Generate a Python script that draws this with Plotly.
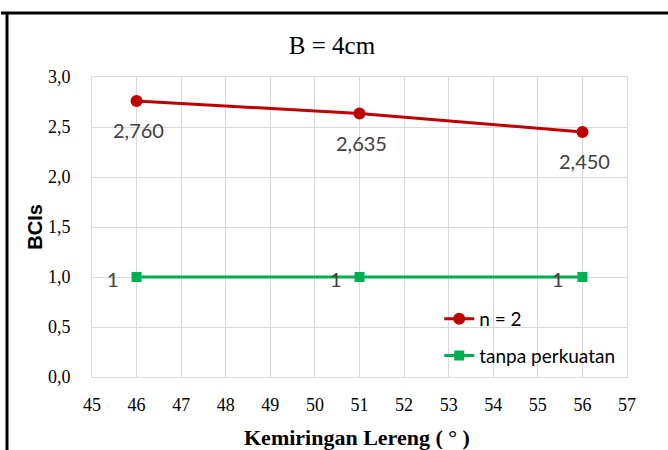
import plotly.graph_objects as go

# Slope angle (degrees) and bearing capacity improvement values
slope_deg = [46, 51, 56]
bcis_n2 = [2.760, 2.635, 2.450]
bcis_plain = [1, 1, 1]

labels_n2 = ["2,760", "2,635", "2,450"]
labels_plain = ["1", "1", "1"]

x_ticks = list(range(45, 58))
y_ticks = [0, 0.5, 1.0, 1.5, 2.0, 2.5, 3.0]
y_tick_text = ["0,0", "0,5", "1,0", "1,5", "2,0", "2,5", "3,0"]

RED = "#c00000"
GREEN = "#00b050"
GRID = "#d9d9d9"
LABEL = "#404040"
SERIF = "Liberation Serif"
SANS = "Lato"

fig = go.Figure()
fig.add_trace(go.Scatter(
    x=slope_deg, y=bcis_n2, name="n = 2", mode="lines+markers", legendgroup="n2",
    line=dict(color=RED, width=3),
    marker=dict(symbol="circle", size=12, color=RED),
))
fig.add_trace(go.Scatter(
    x=slope_deg, y=bcis_plain, name="tanpa perkuatan", mode="lines+markers", legendgroup="plain",
    line=dict(color=GREEN, width=3),
    marker=dict(symbol="square", size=10, color=GREEN),
))

annotations = []
for x, y, t in zip(slope_deg, bcis_n2, labels_n2):
    annotations.append(dict(x=x, y=y, text=t, showarrow=False, xshift=2, yshift=-29,
                            font=dict(family=SANS, size=20, color=LABEL)))
for x, y, t in zip(slope_deg, bcis_plain, labels_plain):
    annotations.append(dict(x=x, y=y, text=t, showarrow=False, xshift=-24, yshift=-2,
                            font=dict(family=SANS, size=20, color=LABEL)))

# Axis titles placed in paper coordinates around the plot area
annotations.append(dict(x=0.495, y=-0.2, xref="paper", yref="paper", yanchor="middle",
                        text="<b>Kemiringan Lereng ( ° )</b>", showarrow=False,
                        font=dict(family=SERIF, size=22, color="black")))
annotations.append(dict(x=-0.107, y=0.5, xref="paper", yref="paper", xanchor="center",
                        yanchor="middle", textangle=-90,
                        text="<b>BCIs</b>", showarrow=False,
                        font=dict(family="Liberation Sans", size=20, color="black")))

fig.update_layout(
    width=668, height=450,
    margin=dict(l=92, r=41, t=77, b=73),
    paper_bgcolor="white", plot_bgcolor="white",
    title=dict(text="B = 4cm", x=0.497, xanchor="center", y=0.9, yanchor="middle",
               font=dict(family=SERIF, size=25, color="black")),
    showlegend=True,
    legend=dict(x=0.649, y=0.257, xanchor="left", yanchor="top",
                bgcolor="rgba(0,0,0,0)", font=dict(family=SANS, size=19, color="black"),
                tracegroupgap=9),
    annotations=annotations,
    shapes=[
        dict(type="line", xref="paper", yref="paper", x0=-0.17, x1=1.1, y0=1.2133, y1=1.2133,
             line=dict(color="black", width=3)),
        dict(type="line", xref="paper", yref="paper", x0=-0.1589, x1=-0.1589, y0=1.2133, y1=-0.3,
             line=dict(color="black", width=3)),
    ],
)

fig.update_xaxes(
    range=[45, 57], tickvals=x_ticks, ticktext=[str(v) for v in x_ticks],
    showgrid=True, gridcolor=GRID, gridwidth=1,
    showline=True, linecolor=GRID, mirror=True, zeroline=False,
    tickfont=dict(family=SERIF, size=18, color="black"),
    ticklabelstandoff=11, automargin=False,
)
fig.update_yaxes(
    range=[0, 3], tickvals=y_ticks, ticktext=y_tick_text,
    showgrid=True, gridcolor=GRID, gridwidth=1,
    showline=True, linecolor=GRID, mirror=True, zeroline=False,
    tickfont=dict(family=SERIF, size=18, color="black"),
    ticklabelstandoff=17, automargin=False,
)

fig.write_html("out.html")
